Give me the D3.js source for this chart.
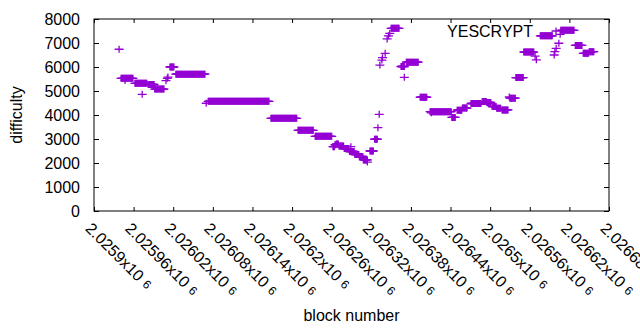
<!DOCTYPE html>
<html>
<head>
<meta charset="utf-8">
<script src="https://cdn.jsdelivr.net/npm/d3@7"></script>
<style>
body { margin: 0; background: #fff; }
text { font-family: "Liberation Sans", Arial, sans-serif; fill: #000; }
</style>
</head>
<body>
<div id="body"></div>
<script>
// difficulty held over runs of blocks: [first block, last block, difficulty]
var runStart = [2025938, 2025941, 2025947, 2025962, 2025973, 2025982, 2025992, 2026009, 2026011, 2026012,
  2026015, 2026024, 2026070, 2026073, 2026168, 2026209, 2026235, 2026262, 2026265, 2026267,
  2026271, 2026279, 2026289, 2026287, 2026295, 2026302, 2026308, 2026314, 2026318, 2026325,
  2026330, 2026332, 2026333, 2026336, 2026337, 2026341, 2026344, 2026346, 2026348, 2026350,
  2026365, 2026370, 2026373, 2026394, 2026409, 2026411, 2026442, 2026450, 2026458, 2026471,
  2026488, 2026495, 2026503, 2026510, 2026518, 2026529, 2026530, 2026539, 2026551, 2026568,
  2026570, 2026576, 2026597, 2026598, 2026600, 2026604, 2026606, 2026607, 2026629, 2026641,
  2026650];
var runEnd = [2025938, 2025959, 2025947, 2025980, 2025973, 2025991, 2026006, 2026009, 2026011, 2026012,
  2026021, 2026068, 2026070, 2026165, 2026207, 2026232, 2026260, 2026264, 2026266, 2026270,
  2026278, 2026286, 2026289, 2026294, 2026301, 2026307, 2026314, 2026314, 2026323, 2026329,
  2026330, 2026332, 2026333, 2026336, 2026337, 2026341, 2026344, 2026346, 2026348, 2026362,
  2026370, 2026370, 2026391, 2026404, 2026441, 2026411, 2026447, 2026457, 2026465, 2026486,
  2026494, 2026501, 2026509, 2026516, 2026527, 2026529, 2026538, 2026550, 2026566, 2026568,
  2026570, 2026594, 2026597, 2026598, 2026600, 2026604, 2026606, 2026627, 2026639, 2026649,
  2026657];
var runValue = [6740, 5530, 5440, 5320, 4860, 5270, 5080, 5430, 5530, 5580,
  6000, 5700, 4490, 4570, 3860, 3360, 3110, 2680, 2760, 2790,
  2710, 2600, 2680, 2480, 2350, 2270, 2130, 2040, 2500, 2990,
  3470, 4030, 6080, 6290, 6390, 6570, 7170, 7300, 7400, 7610,
  6020, 5570, 6200, 4740, 4140, 4090, 3900, 4200, 4290, 4480,
  4560, 4520, 4350, 4280, 4210, 4750, 4700, 5560, 6620, 6450,
  6300, 7300, 6500, 6640, 6780, 6990, 7360, 7530, 6900, 6570,
  6640];

var xTicks = [2025900, 2025960, 2026020, 2026080, 2026140, 2026200, 2026260,
  2026320, 2026380, 2026440, 2026500, 2026560, 2026620, 2026680];
var xTickLabels = ["2.0259", "2.02596", "2.02602", "2.02608", "2.02614", "2.0262", "2.02626",
  "2.02632", "2.02638", "2.02644", "2.0265", "2.02656", "2.02662", "2.02668"];
var yTicks = [0, 1000, 2000, 3000, 4000, 5000, 6000, 7000, 8000];

var seriesName = "YESCRYPT";
var color = "#9400d3";

var margin = {top: 19, right: 31, bottom: 119, left: 94},
  width = 640 - margin.left - margin.right,
  height = 330 - margin.top - margin.bottom;

var points = [];
runStart.forEach(function(s, i) {
  for (var b = s; b <= runEnd[i]; b++) points.push([b, runValue[i]]);
});

var svg = d3.select("#body")
  .append("svg")
  .attr("width", 640)
  .attr("height", 330)
  .append("g")
  .attr("transform", "translate(" + margin.left + "," + margin.top + ")");

var x = d3.scaleLinear().domain([2025900, 2026680]).range([0, width]);
var y = d3.scaleLinear().domain([0, 8000]).range([height, 0]);

// ticks on all four sides, pointing inward
var bottomAxis = d3.axisBottom(x).tickValues(xTicks).tickSizeInner(-4).tickSizeOuter(0).tickFormat("");
var topAxis = d3.axisTop(x).tickValues(xTicks).tickSizeInner(-4).tickSizeOuter(0).tickFormat("");
var leftAxis = d3.axisLeft(y).tickValues(yTicks).tickSizeInner(-5).tickSizeOuter(0).tickFormat("");
var rightAxis = d3.axisRight(y).tickValues(yTicks).tickSizeInner(-5).tickSizeOuter(0).tickFormat("");

svg.append("g").attr("transform", "translate(0," + height + ")").call(bottomAxis);
svg.append("g").call(topAxis);
svg.append("g").call(leftAxis);
svg.append("g").attr("transform", "translate(" + width + ",0)").call(rightAxis);
svg.selectAll(".domain").remove();
svg.selectAll(".tick line").attr("stroke", "#000");

svg.append("rect")
  .attr("width", width)
  .attr("height", height)
  .attr("fill", "none")
  .attr("stroke", "#000")
  .attr("stroke-width", 1);

// y tick labels
svg.selectAll(".ylab")
  .data(yTicks)
  .enter().append("text")
  .attr("class", "ylab")
  .attr("x", -14)
  .attr("y", function(d) { return y(d); })
  .attr("dy", "0.36em")
  .attr("text-anchor", "end")
  .style("font-size", "16px")
  .text(function(d) { return d; });

// x tick labels, rotated like gnuplot's "rotate by -45"
var xl = svg.selectAll(".xlab")
  .data(xTicks)
  .enter().append("text")
  .attr("class", "xlab")
  .attr("transform", function(d) { return "translate(" + (x(d) - 1) + "," + (height + 10) + ") rotate(45)"; })
  .attr("dy", "0.75em")
  .style("font-size", "16px");
xl.append("tspan").text(function(d, i) { return xTickLabels[i] + "x10"; });
xl.append("tspan").attr("dx", 5).attr("dy", "-0.1em").style("font-size", "12px").text("6");

// points
var plus = "M-4.5,0H4.5M0,-3.5V3.5";
svg.append("g")
  .selectAll("path")
  .data(points)
  .enter().append("path")
  .attr("transform", function(d) { return "translate(" + x(d[0]) + "," + y(d[1]) + ")"; })
  .attr("d", plus)
  .attr("fill", "none")
  .attr("stroke", color)
  .attr("stroke-width", 1.3);

// key
svg.append("text")
  .attr("x", 439)
  .attr("y", 18)
  .attr("text-anchor", "end")
  .style("font-size", "16px")
  .text(seriesName);
svg.append("path")
  .attr("transform", "translate(462,12)")
  .attr("d", plus)
  .attr("fill", "none")
  .attr("stroke", color)
  .attr("stroke-width", 1.3);

// axis titles
svg.append("text")
  .attr("transform", "translate(-72," + (height / 2) + ") rotate(-90)")
  .attr("text-anchor", "middle")
  .style("font-size", "16px")
  .text("difficulty");

svg.append("text")
  .attr("x", width / 2)
  .attr("y", height + 110)
  .attr("text-anchor", "middle")
  .style("font-size", "16px")
  .text("block number");
</script>
</body>
</html>
